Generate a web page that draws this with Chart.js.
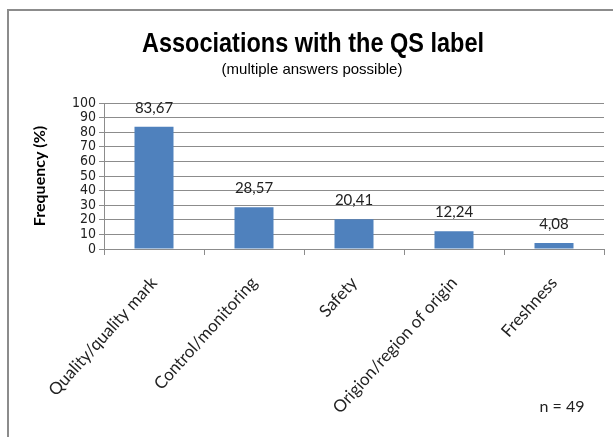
<!DOCTYPE html>
<html>
<head>
<meta charset="utf-8">
<script src="https://cdn.jsdelivr.net/npm/chart.js@4"></script>
<style>
  html, body { margin: 0; padding: 0; background: #fff; }
  #wrap { width: 613px; height: 437px; }
</style>
</head>
<body>
<div id="wrap"><canvas id="myChart" width="613" height="437"></canvas></div>
<script>
var categories = ['Quality/quality mark', 'Control/monitoring', 'Safety', 'Origion/region of origin', 'Freshness'];
var frequency = [83.67, 28.57, 20.41, 12.24, 4.08];
var yTicks = [0, 10, 20, 30, 40, 50, 60, 70, 80, 90, 100];
var titleText = 'Associations with the QS label';
var subtitleText = '(multiple answers possible)';
var noteText = 'n = 49';

var condensed = '"DejaVu Sans Condensed", sans-serif';
var calibriLike = 'Lato, "Open Sans", sans-serif';

// draw text squeezed to a given width (the original uses a narrow face)
function narrowText(c, text, font, cx, y, width) {
  c.font = font;
  var w = c.measureText(text).width;
  var k = Math.min(1, width / w);
  c.save();
  c.translate(cx, y);
  c.scale(k, 1);
  c.fillText(text, 0, 0);
  c.restore();
}

// frame, titles, value labels and the n = 49 note
var extras = {
  id: 'extras',
  beforeDraw: function (chart) {
    var c = chart.ctx;
    c.save();
    c.fillStyle = '#fff';
    c.fillRect(0, 0, chart.width, chart.height);
    c.strokeStyle = '#8c8c8c';
    c.lineWidth = 2;
    c.strokeRect(8, 10, 800, 600);
    c.fillStyle = '#000';
    c.textAlign = 'center';
    c.textBaseline = 'alphabetic';
    narrowText(c, titleText, 'bold 28px "Liberation Sans", Arial, sans-serif', 313, 52, 342);
    narrowText(c, subtitleText, '15px "Liberation Sans", Arial, sans-serif', 312, 74, 185);
    c.restore();
  },
  afterDatasetsDraw: function (chart) {
    var c = chart.ctx;
    var meta = chart.getDatasetMeta(0);
    c.save();
    c.font = '15px ' + calibriLike;
    c.fillStyle = '#222';
    c.textAlign = 'center';
    c.textBaseline = 'middle';
    meta.data.forEach(function (bar, i) {
      c.fillText(frequency[i].toFixed(2).replace('.', ','), bar.x, bar.y - 19);
    });
    c.font = '16px ' + calibriLike;
    c.fillText(noteText, 562, 407);
    c.restore();
  }
};

var ctx = document.getElementById('myChart');
var chart = new Chart(ctx, {
  type: 'bar',
  data: {
    labels: categories,
    datasets: [{
      data: frequency,
      backgroundColor: '#4f81bd',
      borderWidth: 0,
      categoryPercentage: 1,
      barPercentage: 0.39
    }]
  },
  options: {
    responsive: false,
    animation: false,
    layout: { padding: { left: 10, right: 9, top: 103, bottom: 0 } },
    plugins: {
      legend: { display: false },
      tooltip: { enabled: false }
    },
    scales: {
      x: {
        grid: { offset: true, drawOnChartArea: false, drawTicks: true, tickLength: 6, color: '#8c8c8c' },
        border: { color: '#8c8c8c' },
        ticks: {
          minRotation: 48, maxRotation: 48, autoSkip: false,
          color: '#222', padding: 18,
          font: { family: calibriLike, size: 17 }
        },
        afterFit: function (scale) { scale.height = 188; }
      },
      y: {
        min: 0, max: 100,
        afterBuildTicks: function (scale) {
          scale.ticks = yTicks.map(function (v) { return { value: v }; });
        },
        grid: { color: '#8c8c8c', tickLength: 5 },
        border: { color: '#8c8c8c' },
        ticks: {
          autoSkip: false, color: '#222', padding: 3,
          font: { family: condensed, size: 14, lineHeight: 1 }
        },
        title: {
          display: true,
          text: 'Frequency (%)',
          color: '#000',
          font: { family: calibriLike, size: 16, weight: 'bold' },
          padding: { top: 20, bottom: 0 }
        },
        afterFit: function (scale) { scale.width = 94; }
      }
    }
  },
  plugins: [extras]
});
</script>
</body>
</html>
